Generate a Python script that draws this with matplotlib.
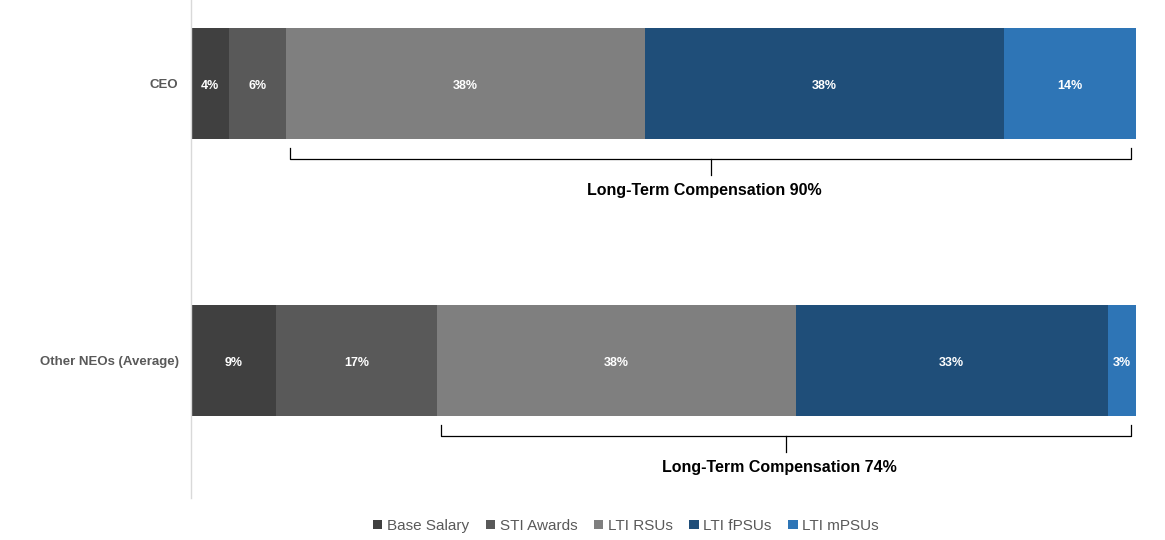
import numpy as np
import matplotlib.pyplot as plt

plt.rcParams['font.family'] = ['Liberation Sans', 'DejaVu Sans']

# data
groups = ['CEO', 'Other NEOs (Average)']
series = ['Base Salary', 'STI Awards', 'LTI RSUs', 'LTI fPSUs', 'LTI mPSUs']
base_salary = [4, 9]
sti_awards = [6, 17]
lti_rsus = [38, 38]
lti_fpsus = [38, 33]
lti_mpsus = [14, 3]

colors = ['#404040', '#595959', '#7f7f7f', '#1f4e79', '#2e75b6']
values = np.array([base_salary, sti_awards, lti_rsus, lti_fpsus, lti_mpsus])

fig = plt.figure(figsize=(11.65, 5.4), dpi=100)
ax = fig.add_axes([191/1165, 42/540, 945/1165, 498/540])

y = np.arange(len(groups))
left = np.zeros(len(groups))
for i in range(len(series)):
    ax.barh(y, values[i], left=left, height=0.40, color=colors[i],
            label=series[i], linewidth=0)
    for j in range(len(groups)):
        ax.text(left[j] + values[i][j] / 2, y[j] + 0.01, f'{values[i][j]}%',
                ha='center', va='center', color='white',
                fontsize=9, fontweight='bold')
    left = left + values[i]

# brackets for long-term compensation
for j in range(len(groups)):
    start = values[0][j] + values[1][j] + 0.5
    end = left[j] - 0.5
    mid = (start + end) / 2
    top = y[j] + 0.233
    hline = y[j] + 0.272
    tip = y[j] + 0.33
    ax.plot([start, start, end, end], [top, hline, hline, top],
            color='black', lw=0.9, solid_joinstyle='round')
    ax.plot([mid, mid], [hline, tip], color='black', lw=0.9)
    lt = values[2][j] + values[3][j] + values[4][j]
    ax.text(mid - 0.7, y[j] + 0.385, f'Long-Term Compensation {lt}%',
            ha='center', va='center', fontsize=11.5, fontweight='bold',
            color='black')

ax.set_xlim(0, 100)
ax.set_ylim(1.496, -0.301)
ax.set_yticks(y)
ax.set_yticklabels(groups, fontsize=9.5, fontweight='bold', color='#595959')
ax.tick_params(axis='y', length=0, pad=9)
ax.set_xticks([])
for s in ['top', 'right', 'bottom']:
    ax.spines[s].set_visible(False)
ax.spines['left'].set_color('#d9d9d9')
ax.spines['left'].set_linewidth(1)

leg = fig.legend(loc='center', bbox_to_anchor=(626/1165, 1 - 526/540),
                 ncol=5, frameon=False, fontsize=11, handlelength=0.6,
                 handleheight=0.6, handletextpad=0.3, columnspacing=1.1)
for t in leg.get_texts():
    t.set_color('#595959')

fig.savefig('out.png', dpi=100)
